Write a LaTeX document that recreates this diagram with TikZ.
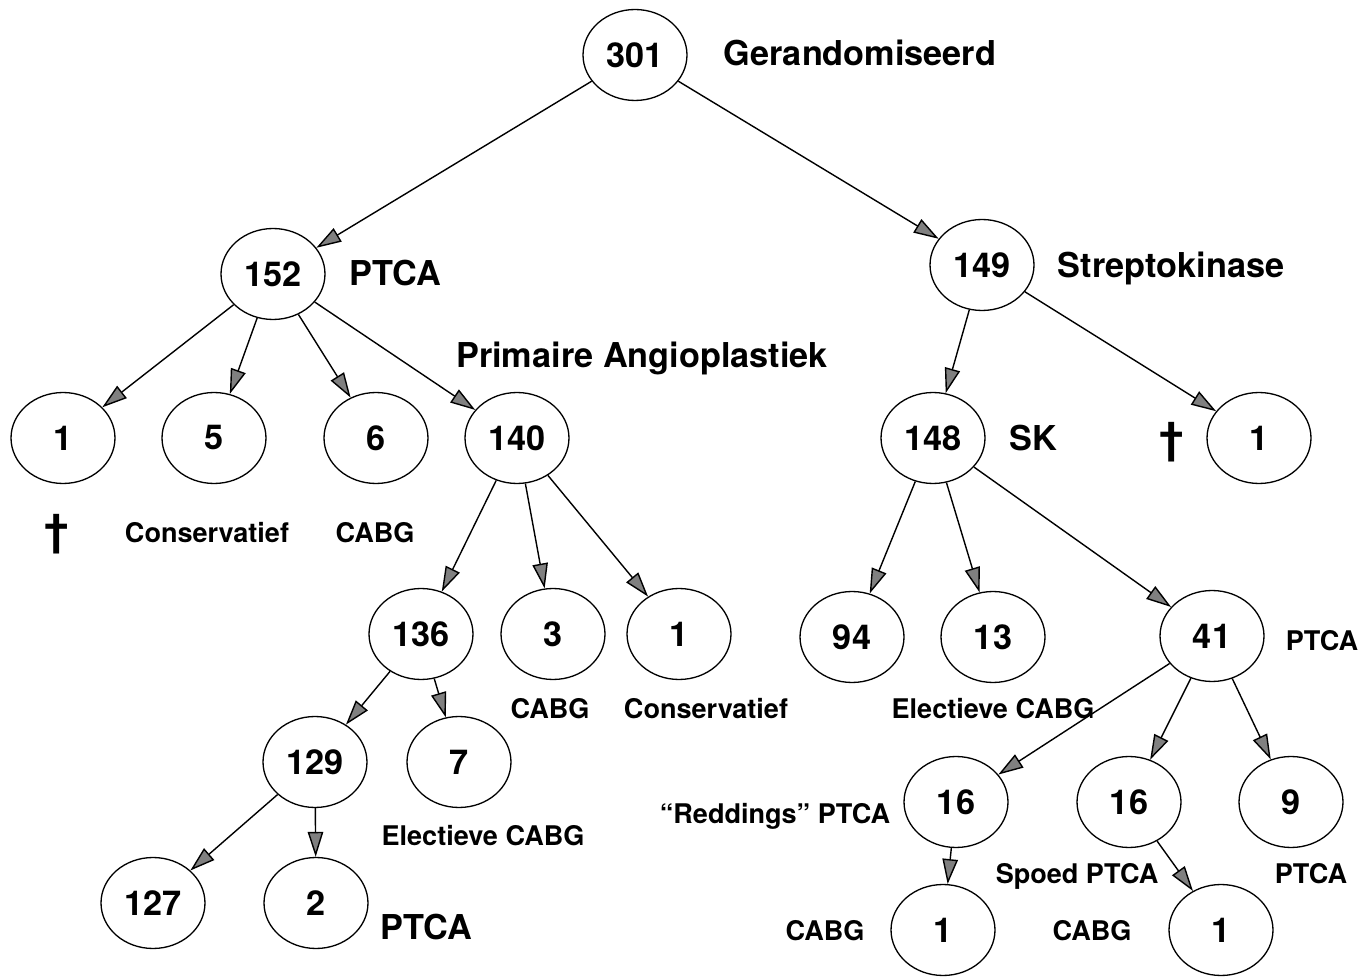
\documentclass[tikz,border=0pt]{standalone}
\usepackage{fontspec}
\setmainfont{TeX Gyre Heros}
\usetikzlibrary{shapes.geometric,arrows.meta}
\begin{document}
\begin{tikzpicture}[x=0.02cm,y=-0.02cm,
    every node/.style={font=\bfseries\fontsize{19.5}{22}\selectfont},
    count/.style={draw,ellipse,line width=0.75pt,minimum width=2.08cm,minimum height=1.82cm,inner sep=0pt},
    lab/.style={text depth=0pt,inner sep=0pt},
    small/.style={lab,font=\bfseries\fontsize{15.4}{18}\selectfont},
    cross/.style={lab,font=\bfseries\fontsize{25}{28}\selectfont},
    >={Triangle[length=5mm,width=3.1mm,fill=black!50]}]
      \useasboundingbox (0,0) rectangle (1366,979);
      \draw
        (635,55) node[count] (n301){301}
        (273,274) node[count] (n152){152}
        (982,265) node[count] (n149){149}
        (63,438) node[count] (n1a){1}
        (214,438) node[count] (n5){5}
        (376,438) node[count] (n6){6}
        (517,438) node[count] (n140){140}
        (933,438) node[count] (n148){148}
        (1259,438) node[count] (n1b){1}
        (421,634) node[count] (n136){136}
        (553,634) node[count] (n3){3}
        (679,634) node[count] (n1c){1}
        (852,637) node[count] (n94){94}
        (993,637) node[count] (n13){13}
        (1212,636) node[count] (n41){41}
        (315,762) node[count] (n129){129}
        (459,762) node[count] (n7){7}
        (956,802) node[count] (n16a){16}
        (1129,802) node[count] (n16b){16}
        (1291,802) node[count] (n9){9}
        (153,903) node[count] (n127){127}
        (316,903) node[count] (n2){2}
        (943,930) node[count] (n1d){1}
        (1221,930) node[count] (n1e){1};
      % labels
      \node[lab] (lrand) at (860,53) {Gerandomiseerd};
      \node[lab] (lptca) at (395,273) {PTCA};
      \node[lab] (lsk) at (1171,265) {Streptokinase};
      \node[lab] (lprim) at (642,355) {Primaire Angioplastiek};
      \node[lab] (lskshort) at (1033,438) {SK};
      \node[cross] (ldeadb) at (1172,438) {†};
      \node[cross] (ldeada) at (57,530) {†};
      \node[small] (lcons) at (207,532) {Conservatief};
      \node[small] (lcabg) at (375,532) {CABG};
      \node[small] (lcabgb) at (550,708) {CABG};
      \node[small] (lconsb) at (706,708) {Conservatief};
      \node[small] (lelec) at (483,835) {Electieve CABG};
      \node[lab] (lptcab) at (426,927) {PTCA};
      \node[small] (lptcac) at (1322,640) {PTCA};
      \node[small] (lelecb) at (993,708) {Electieve CABG};
      \node[small] (lredd) at (775,813) {“Reddings” PTCA};
      \node[small] (lspoed) at (1077,873) {Spoed PTCA};
      \node[small] (lptcad) at (1311,873) {PTCA};
      \node[small] (lcabgc) at (825,930) {CABG};
      \node[small] (lcabgd) at (1092,930) {CABG};
      \begin{scope}[->,line width=0.8pt]
        \draw (n301) to (n152);
        \draw (n301) to (n149);
        \draw (n152) to (n1a);
        \draw (n152) to (n5);
        \draw (n152) to (n6);
        \draw (n152) to (n140);
        \draw (n149) to (n148);
        \draw (n149) to (n1b);
        \draw (n140) to (n136);
        \draw (n140) to (n3);
        \draw (n140) to (n1c);
        \draw (n148) to (n94);
        \draw (n148) to (n13);
        \draw (n148) to (n41);
        \draw (n136) to (n129);
        \draw (n136) to (n7);
        \draw (n41) to (n16a);
        \draw (n41) to (n16b);
        \draw (n41) to (n9);
        \draw (n129) to (n127);
        \draw (n129) to (n2);
        \draw (n16a) to (n1d);
        \draw (n16b) to (n1e);
      \end{scope}
    \end{tikzpicture}
\end{document}
